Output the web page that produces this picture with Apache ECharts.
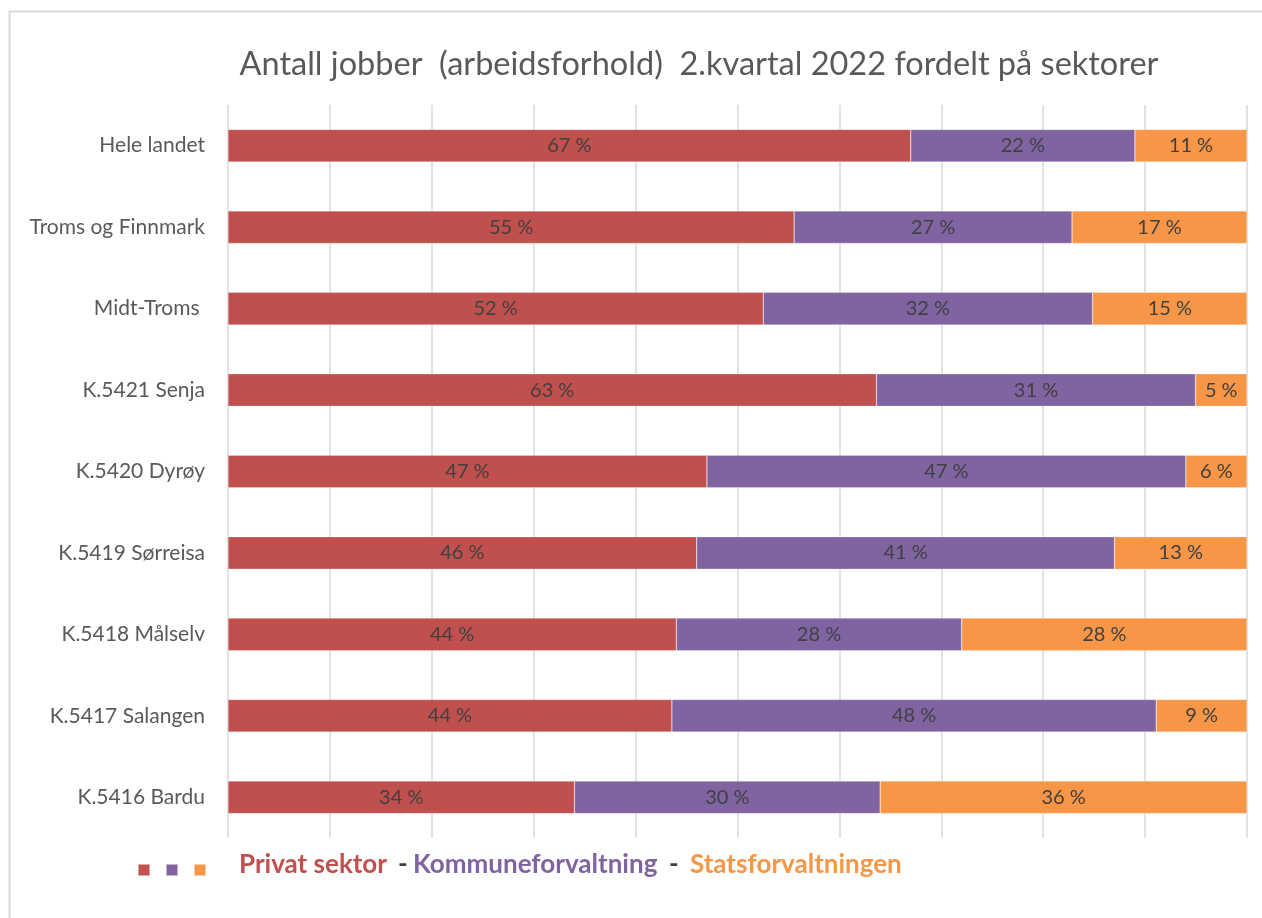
<!DOCTYPE html>
<html>
<head>
<meta charset="utf-8">
<script src="https://cdn.jsdelivr.net/npm/echarts@6/dist/echarts.min.js"></script>
<style>
  html, body { margin: 0; padding: 0; background: #fff; }
  #chart { width: 1262px; height: 918px; }
</style>
</head>
<body>
<div id="chart"></div>
<script>
// kategorier, øverst til nederst
const categories = ['Hele landet', 'Troms og Finnmark', 'Midt-Troms ', 'K.5421 Senja', 'K.5420 Dyrøy',
  'K.5419 Sørreisa', 'K.5418 Målselv', 'K.5417 Salangen', 'K.5416 Bardu']
// andeler i prosent (som vist i etikettene)
const privat = [67, 55, 52, 63, 47, 46, 44, 44, 34]
const kommune = [22, 27, 32, 31, 47, 41, 28, 48, 30]
const stat = [11, 17, 15, 5, 6, 13, 28, 9, 36]
const xTicks = [0, 10, 20, 30, 40, 50, 60, 70, 80, 90, 100]
const seriesNames = ['Privat sektor', 'Kommuneforvaltning', 'Statsforvaltningen']

const colors = ['#c0504d', '#8064a2', '#f79646']
const font = 'Lato, "Open Sans", sans-serif'

// 100 % stablet: skaler hver rad til sum 100
const totals = categories.map((c, i) => privat[i] + kommune[i] + stat[i])
const share = arr => arr.map((v, i) => v / totals[i] * 100)

const makeSeries = (arr, idx) => ({
  name: seriesNames[idx],
  type: 'bar',
  stack: 'total',
  barCategoryGap: '60%',
  data: share(arr),
  itemStyle: { color: colors[idx], borderColor: 'rgba(255,255,255,0.5)', borderWidth: 0.5 },
  label: {
    show: true,
    position: 'inside',
    color: '#404040',
    fontFamily: font,
    fontSize: 20,
    formatter: p => arr[p.dataIndex] + ' %'
  }
})

// legendetekst (farget tekst ved siden av rutene)
const legendText = (text, left, fill) => ({
  type: 'text',
  left: left,
  top: 852,
  style: { text: text, fontFamily: font, fontSize: 26, fontWeight: 'bold', fill: fill }
})

const chart = echarts.init(document.getElementById('chart'))
chart.setOption({
  animation: false,
  title: {
    text: 'Antall jobber  (arbeidsforhold)  2.kvartal 2022 fordelt på sektorer',
    left: 694,
    textAlign: 'center',
    top: 43,
    textStyle: { fontFamily: font, fontSize: 32.5, fontWeight: 'normal', color: '#595959' }
  },
  legend: {
    left: 132,
    top: 858,
    icon: 'rect',
    itemWidth: 12,
    itemHeight: 12,
    itemGap: 14,
    formatter: () => '',
    selectedMode: false,
    data: seriesNames
  },
  graphic: [
    {
      type: 'rect',
      shape: { x: 9.5, y: 11.5, width: 1300, height: 1000 },
      style: { fill: 'none', stroke: '#d9d9d9', lineWidth: 2 },
      silent: true
    },
    legendText(seriesNames[0], 239, colors[0]),
    legendText('-', 398, '#404040'),
    legendText(seriesNames[1], 413, colors[1]),
    legendText('-', 669, '#404040'),
    legendText(seriesNames[2], 690, colors[2])
  ],
  grid: { left: 228, right: 15, top: 105, bottom: 80, containLabel: false },
  xAxis: {
    type: 'value',
    min: xTicks[0],
    max: xTicks[xTicks.length - 1],
    interval: 10,
    axisLabel: { show: false },
    axisLine: { show: false },
    axisTick: { show: false },
    splitLine: { show: true, lineStyle: { color: '#d9d9d9', width: 1.5 } }
  },
  yAxis: {
    type: 'category',
    data: categories,
    inverse: true,
    axisLine: { show: false },
    axisTick: { show: false },
    axisLabel: { margin: 23, color: '#595959', fontFamily: font, fontSize: 21 }
  },
  series: [
    makeSeries(privat, 0),
    makeSeries(kommune, 1),
    makeSeries(stat, 2)
  ]
})
</script>
</body>
</html>
